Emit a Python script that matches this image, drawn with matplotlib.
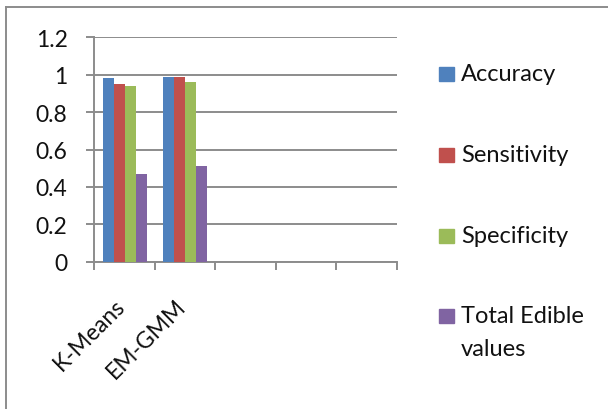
import matplotlib
matplotlib.use("Agg")
import matplotlib.pyplot as plt
import matplotlib.transforms as mtransforms
from matplotlib.patches import Rectangle
from matplotlib.lines import Line2D
import numpy as np

# Chart data
categories = ["K-Means", "EM-GMM", "", "", ""]
series_names = ["Accuracy", "Sensitivity", "Specificity", "Total Edible\nvalues"]
accuracy = [0.98, 0.99]
sensitivity = [0.95, 0.99]
specificity = [0.94, 0.96]
total_edible = [0.47, 0.51]
series_values = [accuracy, sensitivity, specificity, total_edible]
colors = ["#4F81BD", "#C0504D", "#9BBB59", "#8064A2"]
y_ticks = [0, 0.2, 0.4, 0.6, 0.8, 1.0, 1.2]
y_tick_labels = ["0", "0.2", "0.4", "0.6", "0.8", "1", "1.2"]

plt.rcParams['font.family'] = ['Lato', 'DejaVu Sans']
FS = 16.5
LEG_FS = 17
GRAY = "#8c8c8c"
TEXT = "#111111"

W, H = 608, 410
fig = plt.figure(figsize=(W / 100, H / 100), dpi=100)


def fx(x):
    return x / W


def fy(y):
    return 1 - y / H


# outer chart frame (top and left edges visible)
fig.add_artist(Line2D([fx(6), 1.0], [fy(8), fy(8)], transform=fig.transFigure,
                      color=GRAY, lw=1.4))
fig.add_artist(Line2D([fx(6), fx(6)], [fy(8), 0.0], transform=fig.transFigure,
                      color=GRAY, lw=1.4))

left, right, top, bottom = 94.3, 396.7, 38.3, 262.7
ax = fig.add_axes([fx(left), fy(bottom), (right - left) / W, (bottom - top) / H])

n_series = len(series_values)
bar_w = 0.182
for i, (vals, col) in enumerate(zip(series_values, colors)):
    x = np.arange(len(vals)) + (i - (n_series - 1) / 2) * bar_w
    ax.bar(x, vals, width=bar_w, color=col, zorder=3)

ax.set_xlim(-0.5, len(categories) - 0.5)
ax.set_ylim(0, 1.2)

ax.set_axisbelow(True)
ax.yaxis.grid(True, color=GRAY, lw=1.4, zorder=0)

for s in ("top", "right"):
    ax.spines[s].set_visible(False)
for s in ("left", "bottom"):
    ax.spines[s].set_color(GRAY)
    ax.spines[s].set_linewidth(1.4)

ax.set_yticks(y_ticks)
ax.set_yticklabels(y_tick_labels, fontsize=FS, color=TEXT)
ax.tick_params(axis="y", length=5.8, width=1.4, color=GRAY, pad=13.5)

# category boundary ticks
ax.set_xticks(np.arange(len(categories) + 1) - 0.5)
ax.set_xticklabels([])
ax.tick_params(axis="x", which="major", length=5.8, width=1.4, color=GRAY)

# rotated category labels
label_tf = ax.get_xaxis_transform() + mtransforms.ScaledTranslation(
    -10 / 100, -33 / 100, fig.dpi_scale_trans)
for i, cat in enumerate(categories):
    if cat:
        ax.text(i, 0, cat, transform=label_tf, fontsize=FS, color=TEXT,
                rotation=45, ha="right", va="top", rotation_mode="anchor")

# legend on the right
leg_y = [75, 156, 237, 317]
for name, col, yc in zip(series_names, colors, leg_y):
    fig.add_artist(Rectangle((fx(439), fy(yc + 7)), 15 / W, 14 / H,
                             transform=fig.transFigure, color=col))
    fig.text(fx(461), fy(yc - 11), name, fontsize=LEG_FS, color=TEXT,
             ha="left", va="top", linespacing=1.7,
             transform=fig.transFigure)

fig.savefig("out.png", dpi=100)
